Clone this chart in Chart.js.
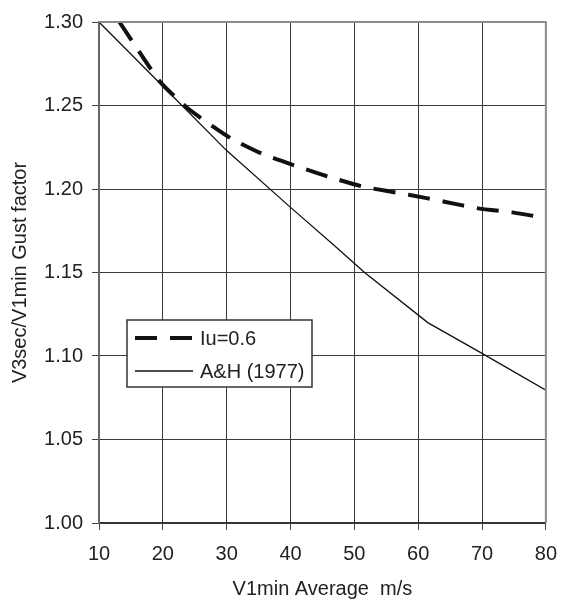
<!DOCTYPE html>
<html>
<head>
<meta charset="utf-8">
<script src="https://cdn.jsdelivr.net/npm/chart.js@4/dist/chart.umd.min.js"></script>
<style>
  html, body { margin: 0; padding: 0; background: #fff; }
  #wrap { width: 569px; height: 605px; }
</style>
</head>
<body>
<div id="wrap"><canvas id="chart" width="569" height="605"></canvas></div>
<script>
// values
const iuX = [13.2, 16.5, 19.6, 23.7, 28, 30.8, 35.6, 40.7, 45.9, 51.4, 58.5, 64.1, 69.4, 74.7, 78, 80];
const iuY = [1.300, 1.281, 1.264, 1.249, 1.237, 1.230, 1.221, 1.214, 1.2074, 1.2014, 1.1966, 1.1924, 1.1884, 1.186, 1.184, 1.183];

const ahX = [10, 20, 30, 40, 46.9, 51.6, 61.5, 70, 80];
const ahY = [1.300, 1.2615, 1.223, 1.189, 1.166, 1.150, 1.120, 1.1016, 1.0796];

const seriesLabels = ['Iu=0.6', 'A&H (1977)'];
const xTicks = [10, 20, 30, 40, 50, 60, 70, 80];
const yTicks = [1.00, 1.05, 1.10, 1.15, 1.20, 1.25, 1.30];

const FONT = "'Liberation Sans', Arial, sans-serif";
const TXT = '#222';

const toPoints = (xs, ys) => xs.map((x, i) => ({ x: x, y: ys[i] }));

// plot frame: gray top / right edges like the original
const frame = {
  id: 'frame',
  afterDatasetsDraw(chart) {
    const { ctx, chartArea: a } = chart;
    ctx.save();
    ctx.strokeStyle = '#8a8a8a';
    ctx.lineWidth = 2;
    ctx.beginPath();
    ctx.moveTo(a.left, a.top);
    ctx.lineTo(a.right, a.top);
    ctx.lineTo(a.right, a.bottom);
    ctx.stroke();
    ctx.restore();
  }
};

// boxed legend inside the plot
const boxLegend = {
  id: 'boxLegend',
  afterDraw(chart) {
    const { ctx, chartArea: a } = chart;
    const left = a.left + 28, top = a.top + 298;
    const w = 185, h = 67;
    ctx.save();
    ctx.fillStyle = '#fff';
    ctx.fillRect(left, top, w, h);
    ctx.strokeStyle = '#333';
    ctx.lineWidth = 1.5;
    ctx.strokeRect(left, top, w, h);
    chart.data.datasets.forEach((ds, i) => {
      const y = top + 18 + i * 33;
      ctx.strokeStyle = ds.borderColor;
      ctx.lineWidth = ds.borderWidth;
      ctx.setLineDash(ds.borderDash || []);
      ctx.beginPath();
      ctx.moveTo(left + 8, y);
      ctx.lineTo(left + 66, y);
      ctx.stroke();
      ctx.setLineDash([]);
      ctx.fillStyle = TXT;
      ctx.font = '20px ' + FONT;
      ctx.textBaseline = 'middle';
      ctx.fillText(ds.label, left + 73, y + 1);
    });
    ctx.restore();
  }
};

new Chart(document.getElementById('chart'), {
  type: 'line',
  data: {
    datasets: [
      {
        label: seriesLabels[0],
        data: toPoints(iuX, iuY),
        borderColor: '#111',
        borderWidth: 4,
        borderDash: [22, 13],
        pointRadius: 0,
        tension: 0.2,
        fill: false
      },
      {
        label: seriesLabels[1],
        data: toPoints(ahX, ahY),
        borderColor: '#111',
        borderWidth: 1.3,
        pointRadius: 0,
        tension: 0,
        fill: false
      }
    ]
  },
  options: {
    responsive: false,
    animation: false,
    layout: { padding: { left: 0, top: 22, right: 12, bottom: 0 } },
    plugins: {
      legend: { display: false },
      tooltip: { enabled: false }
    },
    scales: {
      x: {
        type: 'linear',
        min: 10,
        max: 80,
        afterBuildTicks: (s) => { s.ticks = xTicks.map(v => ({ value: v })); },
        afterFit: (s) => { s.height = 82; },
        grid: { color: '#3a3a3a', lineWidth: 1, tickLength: 7, tickColor: '#444' },
        border: { color: '#333', width: 1.5 },
        ticks: { color: TXT, font: { family: FONT, size: 20 }, padding: 12, maxRotation: 0 },
        title: {
          display: true,
          text: 'V1min Average  m/s',
          color: TXT,
          font: { family: FONT, size: 20 },
          padding: { top: 0, bottom: 4 }
        }
      },
      y: {
        type: 'linear',
        min: 1.0,
        max: 1.3,
        afterBuildTicks: (s) => { s.ticks = yTicks.map(v => ({ value: v })); },
        afterFit: (s) => { s.width = 99; },
        grid: { color: '#3a3a3a', lineWidth: 1, tickLength: 7, tickColor: '#444' },
        border: { color: '#666', width: 2 },
        ticks: {
          color: TXT,
          font: { family: FONT, size: 20 },
          padding: 9,
          callback: (v) => Number(v).toFixed(2)
        },
        title: {
          display: true,
          text: 'V3sec/V1min Gust factor',
          color: TXT,
          font: { family: FONT, size: 20 },
          padding: { top: 8, bottom: 0 }
        }
      }
    }
  },
  plugins: [frame, boxLegend]
});
</script>
</body>
</html>
